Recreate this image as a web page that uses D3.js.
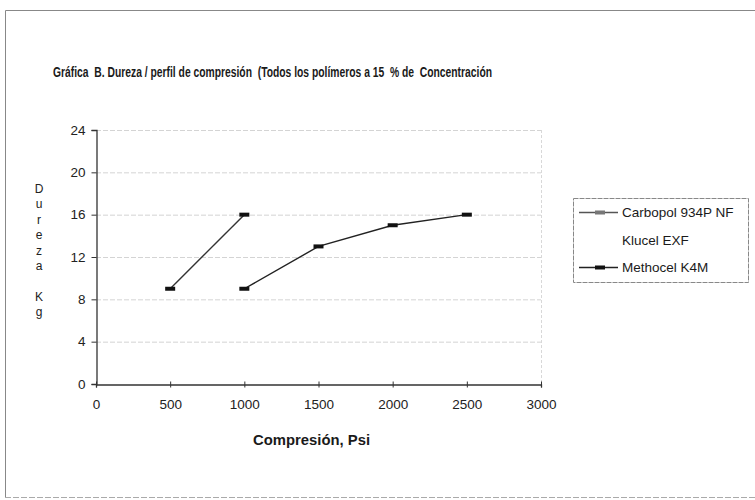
<!DOCTYPE html>
<html>
<head>
<meta charset="utf-8">
<script src="https://cdn.jsdelivr.net/npm/d3@7"></script>
<style>
  body { margin: 0; background: #fff; }
  svg { display: block; font-family: "Liberation Sans", Arial, sans-serif; }
  .keep { white-space: pre; }
</style>
</head>
<body>
<div id="chart"></div>
<script>
// data
const xTicks = [0, 500, 1000, 1500, 2000, 2500, 3000];
const yTicks = [0, 4, 8, 12, 16, 20, 24];
const seriesNames = ["Carbopol 934P NF", "Klucel EXF", "Methocel K4M"];
const carbopolX = [500, 1000];
const carbopolY = [9, 16];
const methocelX = [1000, 1500, 2000, 2500];
const methocelY = [9, 13, 15, 16];
const yLabelLetters = ["D", "u", "r", "e", "z", "a", "", "K", "g"];

let WD = 755, HT = 500
let plot = { left: 96, right: 541, top: 130, bottom: 384 }

var svg = d3.select("#chart").append("svg")
    .attr("width", WD)
    .attr("height", HT);

// outer frame (scanned page border)
svg.append("path")
   .attr("d", "M5.5,498 L5.5,10.5 L755,10.5")
   .attr("fill", "none")
   .attr("stroke", "#888")
   .attr("stroke-width", 1);
svg.append("line")
   .attr("x1", 5).attr("x2", 755).attr("y1", 497.5).attr("y2", 497.5)
   .attr("stroke", "#aaa").attr("stroke-dasharray", "6,2");

var xs = d3.scaleLinear().domain([0, 3000]).range([plot.left, plot.right])
var ys = d3.scaleLinear().domain([0, 24]).range([plot.bottom, plot.top])

// title
svg.append("text")
   .attr("class", "keep")
   .attr("x", 53).attr("y", 76.5)
   .attr("textLength", 439)
   .attr("lengthAdjust", "spacingAndGlyphs")
   .attr("font-size", "15px")
   .attr("font-weight", "bold")
   .attr("fill", "#1a1a1a")
   .text("Gráfica  B. Dureza / perfil de compresión  (Todos los polímeros a 15  % de  Concentración");

// grid lines
svg.append("g").selectAll("line")
   .data(yTicks.filter(d => d > 0))
   .enter().append("line")
     .attr("x1", plot.left).attr("x2", plot.right)
     .attr("y1", d => ys(d) + 0.5).attr("y2", d => ys(d) + 0.5)
     .attr("stroke", "#d4d4d4")
     .attr("stroke-dasharray", "5,2");

// right edge of plot area
svg.append("line")
   .attr("x1", plot.right + 0.5).attr("x2", plot.right + 0.5)
   .attr("y1", plot.top).attr("y2", plot.bottom)
   .attr("stroke", "#d8d8d8")
   .attr("stroke-dasharray", "3,2");

// x axis
var gx = svg.append("g")
   .attr("transform", "translate(0," + (plot.bottom + 0.5) + ")")
   .call(d3.axisBottom(xs).tickValues(xTicks).tickSizeOuter(0).tickSize(3).tickPadding(12).tickFormat(d3.format("d")));
gx.select(".domain").attr("stroke", "#333").attr("stroke-width", 1.3);
gx.selectAll(".tick line").attr("y1", -3).attr("y2", 3).attr("stroke", "#333");
gx.selectAll(".tick text")
  .attr("font-size", "13.5px")
  .attr("fill", "#222")
  .attr("font-family", "'Liberation Sans', Arial, sans-serif");

// y axis
var gy = svg.append("g")
   .attr("transform", "translate(" + (plot.left + 0.5) + ",0)")
   .call(d3.axisLeft(ys).tickValues(yTicks).tickSizeOuter(0).tickSize(5).tickPadding(6));
gy.select(".domain").attr("stroke", "#333").attr("stroke-width", 1.3);
gy.selectAll(".tick line").attr("stroke", "#333");
gy.selectAll(".tick text")
  .attr("font-size", "13.5px")
  .attr("fill", "#222")
  .attr("font-family", "'Liberation Sans', Arial, sans-serif");

// axis titles
svg.append("text")
   .attr("x", 253).attr("y", 445)
   .attr("textLength", 117)
   .attr("lengthAdjust", "spacingAndGlyphs")
   .attr("font-size", "15px")
   .attr("font-weight", "bold")
   .attr("fill", "#1a1a1a")
   .text("Compresión, Psi");

svg.append("g").selectAll("text")
   .data(yLabelLetters)
   .enter().append("text")
     .attr("x", 39)
     .attr("y", (d, i) => 193 + i * 15.4)
     .attr("text-anchor", "middle")
     .attr("font-size", "12px")
     .attr("fill", "#222")
     .text(d => d);

// series
var carbopol = carbopolX.map((x, i) => ({ x: x, y: carbopolY[i] }))
var methocel = methocelX.map((x, i) => ({ x: x, y: methocelY[i] }))

var line = d3.line().x(d => xs(d.x)).y(d => ys(d.y))

function drawSeries(data, colour) {
  svg.append("path")
     .datum(data)
     .attr("d", line)
     .attr("fill", "none")
     .attr("stroke", colour)
     .attr("stroke-width", 1.4);
  svg.append("g").selectAll("rect")
     .data(data)
     .enter().append("rect")
       .attr("x", d => xs(d.x) - 5)
       .attr("y", d => ys(d.y) - 2)
       .attr("width", 10)
       .attr("height", 4)
       .attr("fill", "#111");
}
drawSeries(carbopol, "#333");
drawSeries(methocel, "#222");

// legend
var lg = svg.append("g");
lg.append("rect")
  .attr("x", 573.5).attr("y", 198.5)
  .attr("width", 175).attr("height", 84)
  .attr("fill", "#fff")
  .attr("stroke", "#888")
  .attr("stroke-dasharray", "5,1");

var legendY = [212, 240, 267];
var legendStyle = [
  { stroke: "#555", marker: "#777", show: true },
  { show: false },
  { stroke: "#222", marker: "#111", show: true }
];
seriesNames.forEach(function(name, i) {
  var y = legendY[i];
  if (legendStyle[i].show) {
    lg.append("line")
      .attr("x1", 579).attr("x2", 618)
      .attr("y1", y + 0.5).attr("y2", y + 0.5)
      .attr("stroke", legendStyle[i].stroke)
      .attr("stroke-width", 1.4);
    lg.append("rect")
      .attr("x", 595).attr("y", y - 1.5)
      .attr("width", 10).attr("height", 4)
      .attr("fill", legendStyle[i].marker);
  }
  lg.append("text")
    .attr("x", 622).attr("y", y + 5)
    .attr("font-size", "13.5px")
    .attr("fill", "#1a1a1a")
    .text(name);
});
</script>
</body>
</html>
